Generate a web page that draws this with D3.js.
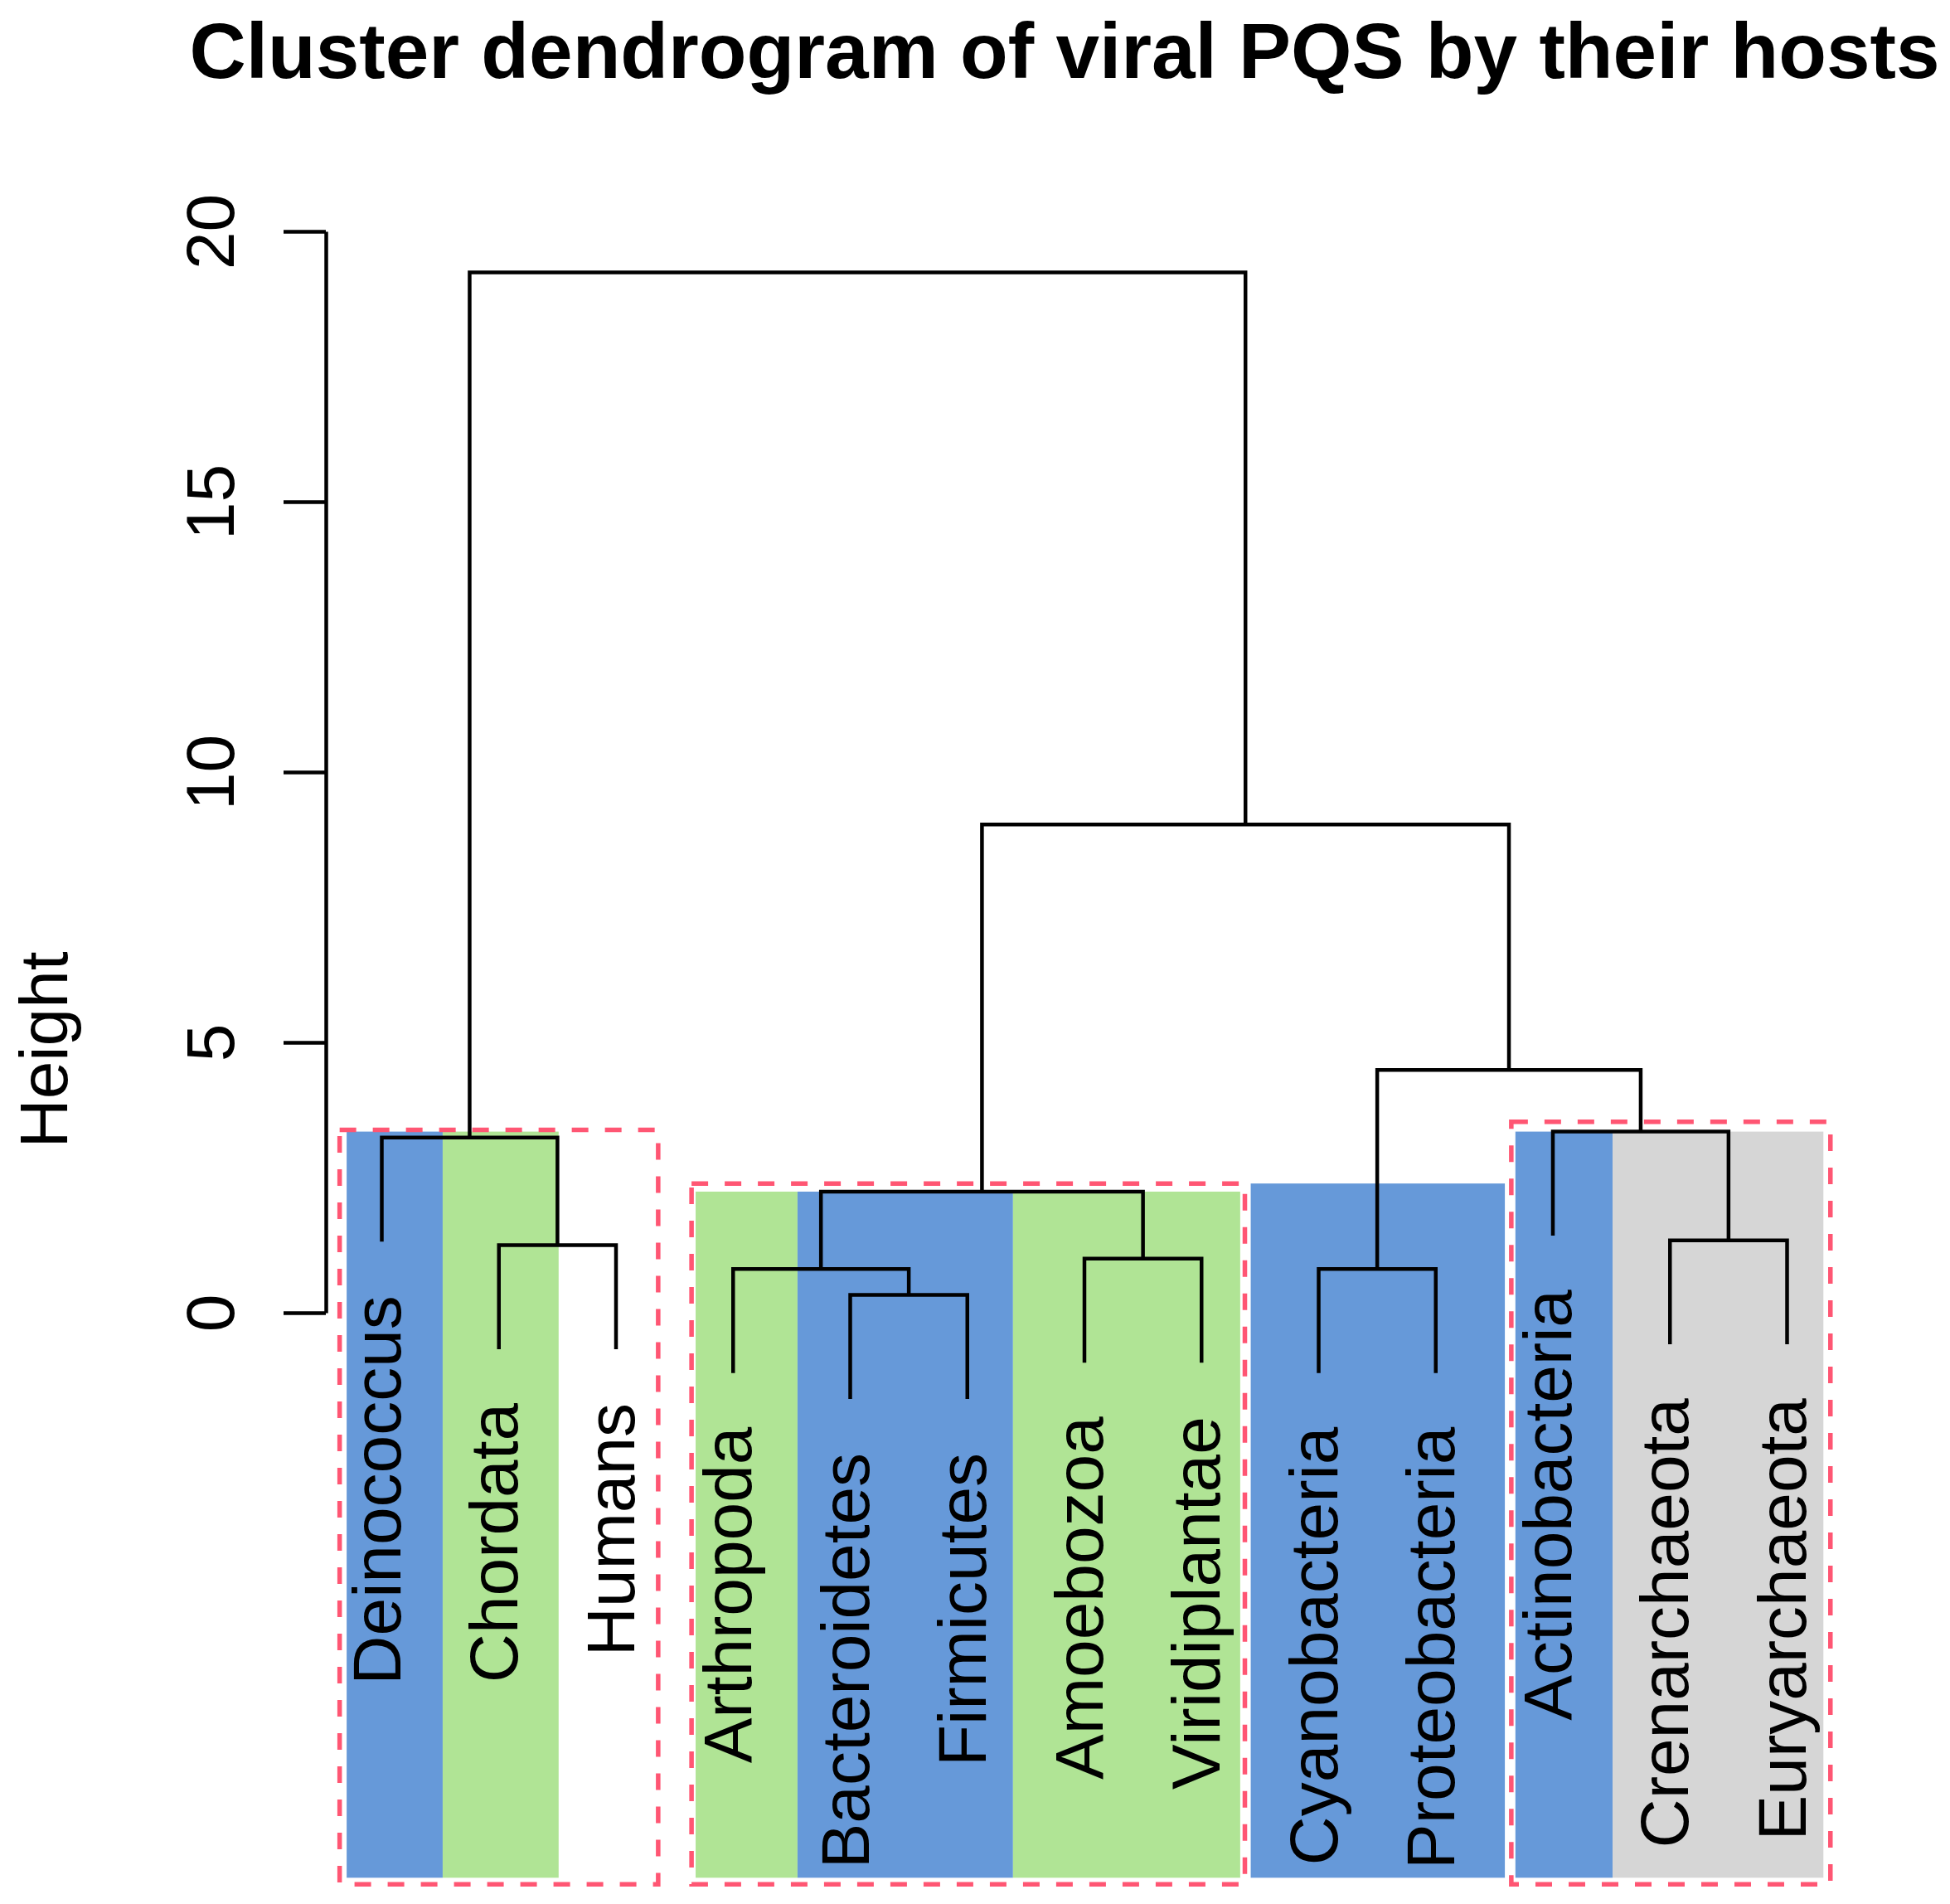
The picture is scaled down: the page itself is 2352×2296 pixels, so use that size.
<!DOCTYPE html>
<html>
<head>
<meta charset="utf-8">
<script src="https://cdn.jsdelivr.net/npm/d3@7"></script>
<style>
  body { margin: 0; background: #fff; }
  text { font-family: "Liberation Sans", Arial, Helvetica, sans-serif; }
</style>
</head>
<body>
<div id="chart"></div>
<script>
// --- data ---
const leaves = ["Deinococcus", "Chordata", "Humans", "Arthropoda", "Bacteroidetes", "Firmicutes",
    "Amoebozoa", "Viridiplantae", "Cyanobacteria", "Proteobacteria", "Actinobacteria",
    "Crenarchaeota", "Euryarchaeota"];

// hclust style merges: negative = leaf (1-based), positive = earlier merge (1-based)
const mergeLeft   = [-5, -4, -9, -7, -2, -12, 2, -1, -11, 3, 7, 8];
const mergeRight  = [-6,  1, -10, -8, -3, -13, 4,  5,   6, 9, 10, 11];
const mergeHeight = [0.33, 0.81, 0.81, 1.00, 1.25, 1.34, 2.24, 3.24, 3.35, 4.49, 9.03, 19.24];

const yTicks = [0, 5, 10, 15, 20];

// shaded host groups, in leaf units
const fillFrom  = [0.70, 1.52, 3.68, 4.55, 6.39, 8.42, 10.68, 11.51];
const fillTo    = [1.52, 2.51, 4.55, 6.39, 8.33, 10.59, 11.51, 13.31];
const fillTop   = [3.35, 3.35, 2.24, 2.24, 2.24, 2.39, 3.35, 3.35];
const fillColor = ["#6699d9", "#b0e495", "#b0e495", "#6699d9", "#b0e495", "#6699d9", "#6699d9", "#d6d6d6"];
const fillBottom = -10.45;

// dashed cluster boxes
const boxFrom = [0.64, 3.645, 10.645];
const boxTo   = [3.36, 8.37, 13.37];
const boxTop  = [3.38, 2.39, 3.53];
const boxBottom = -10.57;

const W = 2352, H = 2296;

const svg = d3.select("#chart").append("svg")
    .attr("width", W)
    .attr("height", H);

const x = d3.scaleLinear().domain([1, leaves.length]).range([460.5, 2155.5]);
const y = d3.scaleLinear().domain([0, 20]).range([1583, 279]);

// fills
svg.append("g").selectAll("rect")
    .data(fillFrom.map((f, i) => ({ from: f, to: fillTo[i], top: fillTop[i], color: fillColor[i] })))
    .join("rect")
    .attr("x", d => x(d.from))
    .attr("width", d => x(d.to) - x(d.from))
    .attr("y", d => y(d.top))
    .attr("height", d => y(fillBottom) - y(d.top))
    .attr("fill", d => d.color);

// dashed boxes
svg.append("g").selectAll("rect")
    .data(boxFrom.map((f, i) => ({ from: f, to: boxTo[i], top: boxTop[i] })))
    .join("rect")
    .attr("x", d => x(d.from))
    .attr("width", d => x(d.to) - x(d.from))
    .attr("y", d => y(d.top))
    .attr("height", d => y(boxBottom) - y(d.top))
    .attr("fill", "none")
    .attr("stroke", "#ff5673")
    .attr("stroke-width", 5.5)
    .attr("stroke-dasharray", "20,20");

// dendrogram geometry
const hang = 0.1 * d3.max(mergeHeight);
const nodeX = [];
const leafEnd = [];
mergeLeft.forEach((l, i) => {
    const r = mergeRight[i];
    const cx = c => c < 0 ? c * -1 : nodeX[c - 1];
    nodeX[i] = (cx(l) + cx(r)) / 2;
    [l, r].forEach(c => { if (c < 0) leafEnd[-c - 1] = mergeHeight[i] - hang; });
});

const childTop = c => c < 0 ? leafEnd[-c - 1] : mergeHeight[c - 1];
const childX = c => c < 0 ? -c : nodeX[c - 1];

svg.append("g").selectAll("path")
    .data(mergeLeft.map((l, i) => ({ l, r: mergeRight[i], h: mergeHeight[i] })))
    .join("path")
    .attr("d", d => {
        const p = d3.path();
        p.moveTo(x(childX(d.l)), y(childTop(d.l)));
        p.lineTo(x(childX(d.l)), y(d.h));
        p.lineTo(x(childX(d.r)), y(d.h));
        p.lineTo(x(childX(d.r)), y(childTop(d.r)));
        return p.toString();
    })
    .attr("fill", "none")
    .attr("stroke", "#000")
    .attr("stroke-width", 4.5);

// leaf labels
svg.append("g").selectAll("text")
    .data(leaves)
    .join("text")
    .attr("transform", (d, i) => `translate(${x(i + 1) + 22},${y(leafEnd[i]) + 65}) rotate(-90)`)
    .attr("text-anchor", "end")
    .attr("font-size", 82)
    .text(d => d);

// y axis
const axis = svg.append("g")
    .attr("transform", "translate(393,0)")
    .call(d3.axisLeft(y).tickValues(yTicks).tickSize(51).tickSizeOuter(0));
axis.select(".domain").attr("stroke-width", 4.5);
axis.selectAll(".tick line").attr("stroke-width", 4.5);
axis.selectAll(".tick text")
    .attr("x", null).attr("dy", null)
    .attr("transform", "translate(-111,0) rotate(-90)")
    .attr("text-anchor", "middle")
    .attr("font-size", 82)
    .attr("font-family", "Liberation Sans, Arial, sans-serif")
    .attr("fill", "#000");

svg.append("text")
    .attr("transform", "translate(81,1266) rotate(-90)")
    .attr("text-anchor", "middle")
    .attr("font-size", 82)
    .text("Height");

svg.append("text")
    .attr("x", 1284)
    .attr("y", 94)
    .attr("text-anchor", "middle")
    .attr("font-size", 94.5)
    .attr("font-weight", "bold")
    .text("Cluster dendrogram of viral PQS by their hosts");
</script>
</body>
</html>
